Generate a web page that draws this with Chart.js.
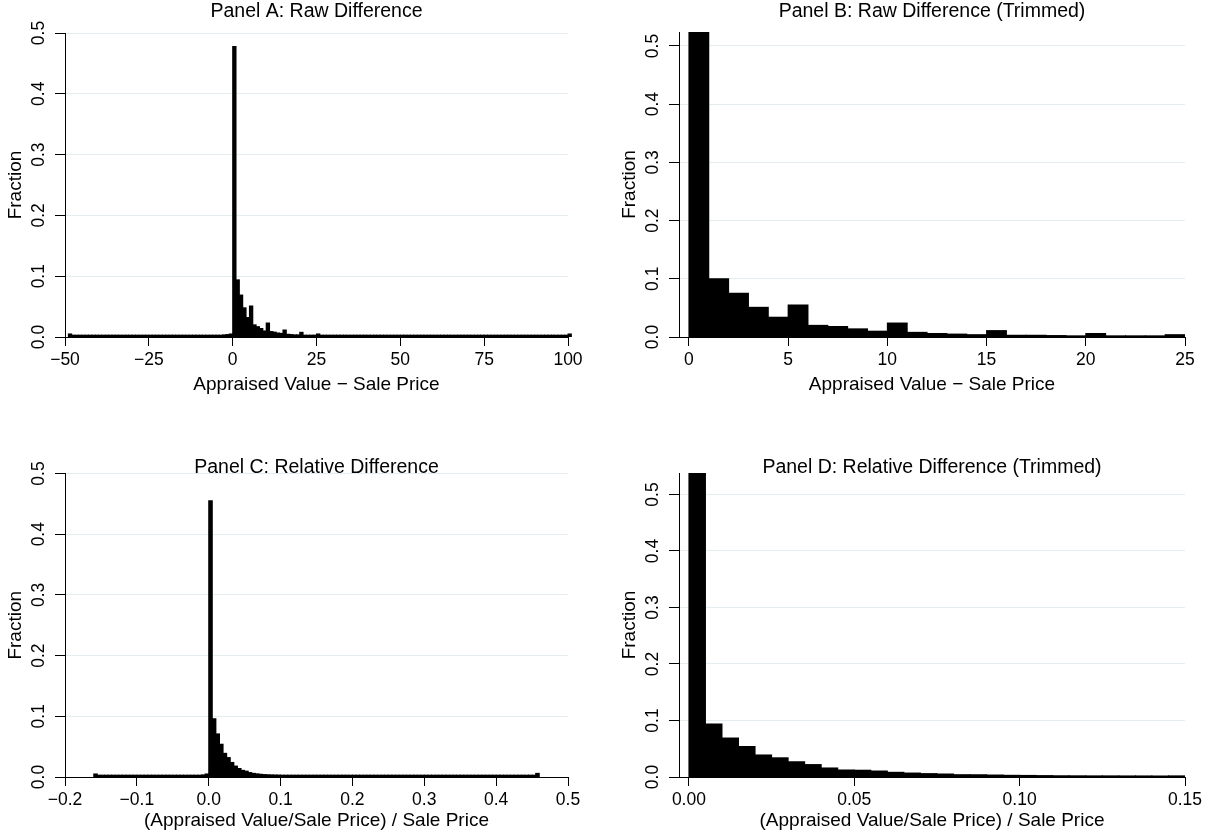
<!DOCTYPE html>
<html>
<head>
<meta charset="utf-8">
<script src="https://cdn.jsdelivr.net/npm/chart.js@4.4.1/dist/chart.umd.min.js"></script>
<style>
html,body{margin:0;padding:0;background:#fff;}
#wrap{position:relative;width:1212px;height:835px;overflow:hidden;background:#fff;}
canvas{position:absolute;}
</style>
</head>
<body>
<div id="wrap">
<canvas id="cA" width="606" height="417" style="left:0;top:0;width:606px;height:417px"></canvas>
<canvas id="cB" width="606" height="417" style="left:606px;top:0;width:606px;height:417px"></canvas>
<canvas id="cC" width="606" height="418" style="left:0;top:417px;width:606px;height:418px"></canvas>
<canvas id="cD" width="606" height="418" style="left:606px;top:417px;width:606px;height:418px"></canvas>
</div>
<script>
// ---------------- DATA ----------------
// Panel A: Appraised Value - Sale Price, bins of width 1 starting at -49
const panelA_binStart = -49;
const panelA_binWidth = 1;
const panelA_fraction = [
  0.005,
  0.003,0.003,0.003,0.003,0.003,0.003,0.003,0.003,0.003,0.003,0.003,0.003,0.003,0.003,0.003,
  0.003,0.003,0.003,0.003,0.003,0.003,0.003,0.003,0.003,0.003,0.003,0.003,0.003,0.003,0.003,
  0.003,0.003,0.003,0.003,0.003,0.003,0.003,0.003,0.003,0.003,0.003,0.003,0.003,0.003,0.003,
  0.0035,0.004,0.005,
  0.478,
  0.094,0.069,0.048,0.032,0.051,0.020,0.017,0.014,0.010,0.023,
  0.009,0.008,0.0066,0.006,0.0115,0.0045,0.004,0.0035,0.0035,0.0077,
  0.003,0.003,0.003,0.003,0.005,
  0.003,0.003,0.003,0.003,0.003,0.003,0.003,0.003,0.003,0.003,0.003,0.003,0.003,0.003,0.003,
  0.003,0.003,0.003,0.003,0.003,0.003,0.003,0.003,0.003,0.003,0.003,0.003,0.003,0.003,0.003,
  0.003,0.003,0.003,0.003,0.003,0.003,0.003,0.003,0.003,0.003,0.003,0.003,0.003,0.003,0.003,
  0.003,0.003,0.003,0.003,0.003,0.003,0.003,0.003,0.003,0.003,0.003,0.003,0.003,0.003,0.003,
  0.003,0.003,0.003,0.003,0.003,0.003,0.003,0.003,0.003,0.003,0.003,0.003,0.003,0.003,
  0.005
];
const panelA_xTicks = [-50,-25,0,25,50,75,100];
const panelA_xTickLabels = ['\u221250','\u221225','0','25','50','75','100'];

// Panel B: trimmed, bins of width 1 from 0 to 25
const panelB_binStart = 0;
const panelB_binWidth = 1;
const panelB_fraction = [
  0.524,0.100,0.075,0.051,0.034,0.055,0.020,0.018,0.014,0.010,
  0.024,0.008,0.006,0.005,0.004,0.011,0.003,0.003,0.0025,0.002,
  0.006,0.002,0.002,0.002,0.004
];
const panelB_xTicks = [0,5,10,15,20,25];
const panelB_xTickLabels = ['0','5','10','15','20','25'];

// Panel C: relative difference, bins of width 0.005 starting at -0.16
const panelC_binStart = -0.16;
const panelC_binWidth = 0.005;
const panelC_fraction = [
  0.005,
  0.003,0.003,0.003,0.003,0.003,0.003,0.003,0.003,0.003,0.003,0.003,0.003,0.003,0.003,
  0.003,0.003,0.003,0.003,0.003,0.003,0.003,0.003,0.003,0.003,0.003,0.003,0.003,0.003,
  0.003,0.0035,0.005,
  0.455,
  0.096,0.071,0.054,0.039,0.032,0.024,0.018,0.014,0.011,0.0096,
  0.0073,0.006,0.0052,0.0045,0.004,0.0037,0.0035,0.0033,0.0032,0.003,
  0.003,0.003,0.003,0.003,0.003,0.003,0.003,0.003,0.003,0.003,0.003,0.003,0.003,0.003,
  0.003,0.003,0.003,0.003,0.003,0.003,0.003,0.003,0.003,0.003,0.003,0.003,0.003,0.003,
  0.003,0.003,0.003,0.003,0.003,0.003,0.003,0.003,0.003,0.003,0.003,0.003,0.003,0.003,
  0.003,0.003,0.003,0.003,0.003,0.003,0.003,0.003,0.003,0.003,0.003,0.003,0.003,0.003,
  0.003,0.003,0.003,0.003,0.003,0.003,0.003,0.003,0.003,0.003,0.003,0.003,0.003,0.003,
  0.006
];
const panelC_xTicks = [-0.2,-0.1,0,0.1,0.2,0.3,0.4,0.5];
const panelC_xTickLabels = ['\u22120.2','\u22120.1','0.0','0.1','0.2','0.3','0.4','0.5'];

// Panel D: trimmed relative difference, bins of width 0.005 from 0 to 0.15
const panelD_binStart = 0;
const panelD_binWidth = 0.005;
const panelD_fraction = [
  0.538,0.094,0.069,0.054,0.039,0.034,0.027,0.022,0.016,0.0124,
  0.012,0.0106,0.0083,0.007,0.006,0.0053,0.0041,0.004,0.0035,0.003,
  0.0028,0.0025,0.0022,0.0021,0.002,0.002,0.0019,0.0019,0.0018,0.002
];
const panelD_xTicks = [0,0.05,0.10,0.15];
const panelD_xTickLabels = ['0.00','0.05','0.10','0.15'];

const yTicks = [0,0.1,0.2,0.3,0.4,0.5];
const yTickLabels = ['0.0','0.1','0.2','0.3','0.4','0.5'];

// ---------------- CHARTS ----------------
Chart.defaults.font.family = "'Liberation Sans', Arial, Helvetica, sans-serif";
Chart.defaults.color = '#000';

const GRID = '#e4edef';

function makePanel(id, p) {
  const pts = p.values.map((v, i) => ({ x: p.binStart + p.binWidth * (i + 0.5), y: v }));
  return new Chart(document.getElementById(id), {
    type: 'bar',
    data: {
      datasets: [{
        data: pts,
        backgroundColor: '#000',
        borderWidth: 0,
        barPercentage: 1,
        categoryPercentage: 1,
        inflateAmount: 0.5,
        clip: p.clip
      }]
    },
    options: {
      responsive: false,
      animation: false,
      devicePixelRatio: 1,
      layout: { padding: { left: 0, right: p.padRight, top: 0, bottom: 0 } },
      plugins: {
        legend: { display: false },
        tooltip: { enabled: false },
        title: {
          display: true,
          text: p.title,
          fullSize: false,
          color: '#000',
          font: { size: 19.5, weight: 'normal', lineHeight: 1 },
          padding: { top: p.titleTop, bottom: p.titleBottom }
        }
      },
      scales: {
        x: {
          type: 'linear',
          min: p.xMin, max: p.xMax,
          offset: false,
          afterBuildTicks: s => { s.ticks = p.xTicks.map(v => ({ value: v })); },
          afterFit: s => { s.height = p.xH; },
          ticks: {
            autoSkip: false, minRotation: 0, maxRotation: 0, padding: 4,
            font: { size: 17.5 }, color: '#000',
            callback: (v, i) => p.xTickLabels[i]
          },
          grid: { offset: false, drawOnChartArea: false, drawTicks: true, tickLength: 9, tickColor: '#000', tickWidth: 1 },
          border: { display: true, color: '#000', width: 1 },
          title: { display: true, text: p.xTitle, color: '#000', font: { size: 19 }, padding: { top: 0, bottom: p.xTitlePad } }
        },
        y: {
          type: 'linear',
          min: 0, max: p.yMax,
          afterBuildTicks: s => { s.ticks = yTicks.map(v => ({ value: v })); },
          afterFit: s => { s.width = p.yW; },
          ticks: {
            autoSkip: false, minRotation: 90, maxRotation: 90, crossAlign: 'center', padding: 4,
            font: { size: 17.5 }, color: '#000',
            callback: (v, i) => yTickLabels[i]
          },
          grid: {
            color: c => (c.tick && c.tick.value === 0) ? 'rgba(0,0,0,0)' : GRID,
            lineWidth: 1, drawTicks: true, tickLength: 10, tickColor: '#000', tickWidth: 1
          },
          border: { display: true, color: '#000', width: 1 },
          title: { display: true, text: 'Fraction', color: '#000', font: { size: 19 }, padding: { top: p.yTitlePad, bottom: 0 } }
        }
      }
    }
  });
}

makePanel('cA', {
  values: panelA_fraction, binStart: panelA_binStart, binWidth: panelA_binWidth,
  xMin: -50, xMax: 100, xTicks: panelA_xTicks, xTickLabels: panelA_xTickLabels,
  yMax: 0.5, title: 'Panel A: Raw Difference', xTitle: 'Appraised Value \u2212 Sale Price',
  padRight: 38, yW: 65, xH: 80, titleTop: 1.5, titleBottom: 12, yTitlePad: 4.6, xTitlePad: 20.6, clip: false
});
makePanel('cB', {
  values: panelB_fraction, binStart: panelB_binStart, binWidth: panelB_binWidth,
  xMin: -0.5, xMax: 25, xTicks: panelB_xTicks, xTickLabels: panelB_xTickLabels,
  yMax: 0.524, title: 'Panel B: Raw Difference (Trimmed)', xTitle: 'Appraised Value \u2212 Sale Price',
  padRight: 27, yW: 73, xH: 80, titleTop: 1.5, titleBottom: 11, yTitlePad: 12.6, xTitlePad: 20.6, clip: 0
});
makePanel('cC', {
  values: panelC_fraction, binStart: panelC_binStart, binWidth: panelC_binWidth,
  xMin: -0.2, xMax: 0.5, xTicks: panelC_xTicks, xTickLabels: panelC_xTickLabels,
  yMax: 0.5, title: 'Panel C: Relative Difference', xTitle: '(Appraised Value/Sale Price) / Sale Price',
  padRight: 38, yW: 65, xH: 58, titleTop: 40.75, titleBottom: -3.75, yTitlePad: 4.6, xTitlePad: 2.6, clip: false
});
makePanel('cD', {
  values: panelD_fraction, binStart: panelD_binStart, binWidth: panelD_binWidth,
  xMin: -0.003, xMax: 0.15, xTicks: panelD_xTicks, xTickLabels: panelD_xTickLabels,
  yMax: 0.538, title: 'Panel D: Relative Difference (Trimmed)', xTitle: '(Appraised Value/Sale Price) / Sale Price',
  padRight: 27, yW: 73, xH: 58, titleTop: 40.75, titleBottom: -4.25, yTitlePad: 12.6, xTitlePad: 2.6, clip: 0
});
</script>
</body>
</html>
